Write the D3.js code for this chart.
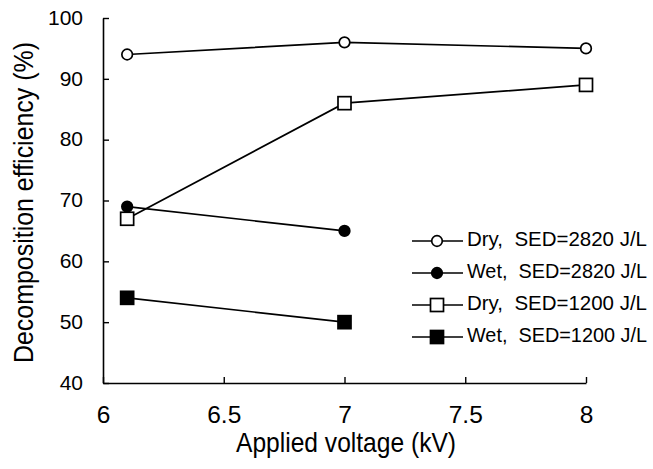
<!DOCTYPE html>
<html>
<head>
<meta charset="utf-8">
<script src="https://cdn.jsdelivr.net/npm/d3@7.9.0/dist/d3.min.js"></script>
<style>
  body { margin: 0; background: #fff; }
  svg { display: block; font-family: "Liberation Sans", Arial, sans-serif; }
</style>
</head>
<body>
<svg id="chart" width="653" height="469"></svg>
<script>
// ---- data ----
const voltages = [6.1, 7, 8];
const dry2820 = [94, 96, 95];
const wet2820 = [69, 65];
const dry1200 = [67, 86, 89];
const wet1200 = [54, 50];
const xTicks = [6, 6.5, 7, 7.5, 8];
const yTicks = [40, 50, 60, 70, 80, 90, 100];
const seriesNames = ["Dry,  SED=2820 J/L", "Wet,  SED=2820 J/L", "Dry,  SED=1200 J/L", "Wet,  SED=1200 J/L"];

const series = [
  { name: seriesNames[0], values: dry2820, shape: "circle", fill: "#fff" },
  { name: seriesNames[1], values: wet2820, shape: "circle", fill: "#000" },
  { name: seriesNames[2], values: dry1200, shape: "square", fill: "#fff" },
  { name: seriesNames[3], values: wet1200, shape: "square", fill: "#000" }
];

// ---- layout ----
const svg = d3.select("#chart");
const plotL = 103, plotR = 586, plotT = 18, plotB = 383;

const x = d3.scaleLinear().domain([6, 8]).range([plotL, plotR]);
const y = d3.scaleLinear().domain([40, 100]).range([plotB, plotT]);

// axes (ticks pointing inward)
const xAxis = d3.axisBottom(x).tickValues(xTicks).tickSizeInner(-6).tickSizeOuter(0)
  .tickFormat(d3.format(""));
const yAxis = d3.axisLeft(y).tickValues(yTicks).tickSizeInner(-6).tickSizeOuter(0)
  .tickPadding(19);

const gx = svg.append("g").attr("transform", `translate(0,${plotB})`).call(xAxis);
const gy = svg.append("g").attr("transform", `translate(${plotL},0)`).call(yAxis);

[gx, gy].forEach(g => {
  g.select(".domain").attr("stroke", "#000").attr("stroke-width", 1.6);
  g.selectAll(".tick line").attr("stroke", "#000").attr("stroke-width", 1.4);
  g.selectAll(".tick text").attr("fill", "#000")
    .attr("font-family", "Liberation Sans, Arial, sans-serif");
});
gy.selectAll(".tick text").attr("font-size", 21).attr("dy", "0.3em").attr("x", -20);
gx.selectAll(".tick text").attr("font-size", 24.5).attr("y", 40).attr("dy", 0);

// axis titles (the original type is a bit condensed)
svg.append("text")
  .attr("x", 346).attr("y", 452)
  .attr("text-anchor", "middle").attr("font-size", 28)
  .attr("textLength", 220).attr("lengthAdjust", "spacingAndGlyphs")
  .text("Applied voltage (kV)");

svg.append("text")
  .attr("transform", `translate(33,${(42 + 363) / 2}) rotate(-90)`)
  .attr("text-anchor", "middle").attr("font-size", 27)
  .attr("textLength", 321).attr("lengthAdjust", "spacingAndGlyphs")
  .text("Decomposition efficiency (%)");

// ---- lines & markers ----
const line = d3.line().x(d => x(d[0])).y(d => y(d[1]));

function drawMarker(g, shape, fill, cx, cy) {
  if (shape === "circle") {
    g.append("circle").attr("cx", cx).attr("cy", cy).attr("r", 5.3)
      .attr("fill", fill).attr("stroke", "#000").attr("stroke-width", 1.7);
  } else {
    g.append("rect").attr("x", cx - 6.5).attr("y", cy - 6.5)
      .attr("width", 13).attr("height", 13)
      .attr("fill", fill).attr("stroke", "#000").attr("stroke-width", 1.7);
  }
}

series.forEach(s => {
  const pts = s.values.map((v, i) => [voltages[i], v]);
  const g = svg.append("g");
  g.append("path").attr("d", line(pts)).attr("fill", "none")
    .attr("stroke", "#000").attr("stroke-width", 1.7);
  pts.forEach(p => drawMarker(g, s.shape, s.fill, x(p[0]), y(p[1])));
});

// ---- legend ----
const legend = svg.append("g").attr("transform", "translate(412,241)");
series.forEach((s, i) => {
  const row = legend.append("g").attr("transform", `translate(0,${i * 32})`);
  row.append("line").attr("x1", 0).attr("x2", 51).attr("y1", 0).attr("y2", 0)
    .attr("stroke", "#000").attr("stroke-width", 1.5);
  drawMarker(row, s.shape, s.fill, 25, 0);
  row.append("text").attr("x", 55).attr("y", 0).attr("dy", "0.24em")
    .attr("font-size", 20.5)
    .attr("textLength", 180).attr("lengthAdjust", "spacingAndGlyphs")
    .style("white-space", "pre")
    .text(s.name);
});
</script>
</body>
</html>
